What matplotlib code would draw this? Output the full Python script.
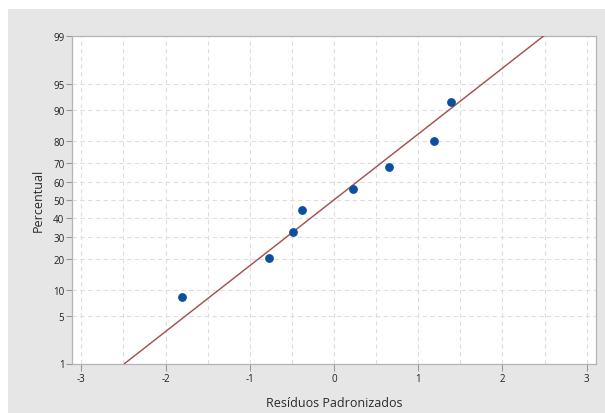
import numpy as np
import matplotlib
matplotlib.use("Agg")
import matplotlib.pyplot as plt
from matplotlib.patches import Rectangle
from matplotlib.ticker import NullLocator, FixedLocator
from statistics import NormalDist

# ---- data ----
residuals = [-1.80, -0.774, -0.481, -0.376, 0.229, 0.650, 1.182, 1.383]
percent = [8.3, 20.2, 32.1, 44.0, 56.0, 67.9, 79.8, 91.7]
y_ticks = [1, 5, 10, 20, 30, 40, 50, 60, 70, 80, 90, 95, 99]
x_ticks = [-3, -2, -1, 0, 1, 2, 3]
x_label = "Resíduos Padronizados"
y_label = "Percentual"

_nd = NormalDist()
_ppf = np.vectorize(lambda v: _nd.inv_cdf(v / 100.0), otypes=[float])
_cdf = np.vectorize(lambda v: _nd.cdf(v) * 100.0, otypes=[float])


def fwd(p):
    p = np.clip(np.asarray(p, dtype=float), 1e-6, 100 - 1e-6)
    return _ppf(p)


def inv(z):
    return _cdf(np.asarray(z, dtype=float))


plt.rcParams['font.family'] = ['Open Sans', 'DejaVu Sans']

fig = plt.figure(figsize=(6.05, 4.14), dpi=100, facecolor='white')
fig.patches.append(Rectangle((8 / 605, 0), 1, (414 - 10) / 414,
                             transform=fig.transFigure, facecolor='#e6e6e6',
                             edgecolor='none', zorder=-10))

ax = fig.add_axes([72 / 605, (414 - 364.5) / 414, (596 - 72) / 605, (364.5 - 37) / 414])
ax.set_facecolor('white')
ax.set_yscale('function', functions=(fwd, inv))
ax.set_ylim(1, 99)
ax.set_xlim(-3.11, 3.11)

ax.yaxis.set_major_locator(FixedLocator(y_ticks))
ax.yaxis.set_minor_locator(NullLocator())
ax.set_yticklabels([str(t) for t in y_ticks])
ax.set_xticks(x_ticks)
ax.set_xticklabels([str(t) for t in x_ticks])
ax.set_xticks(np.arange(-3, 3.01, 0.5), minor=True)

ax.grid(True, which='both', color='#dedede', linestyle=(0, (4, 3)), linewidth=0.8)
ax.set_axisbelow(True)

# fitted normal line from the data
mu = np.mean(residuals)
sd = np.std(residuals, ddof=1)
zz = np.linspace(fwd(1.0), fwd(99.0), 60)
ax.plot(mu + sd * zz, inv(zz), color='#a45252', linewidth=1.05, zorder=3)

ax.plot(residuals, percent, linestyle='none', marker='o', markersize=5.3,
        color='#0b4f9f', zorder=4)

for s in ax.spines.values():
    s.set_color('#b4b4b4')
    s.set_linewidth(0.9)

ax.tick_params(axis='both', which='major', colors='#999999', labelcolor='#222222',
               labelsize=7, direction='out')
ax.tick_params(axis='y', which='major', length=4, pad=1.5)
ax.tick_params(axis='x', which='major', length=5, pad=1.5)
ax.tick_params(axis='x', which='minor', length=0)

ax.set_xlabel(x_label, fontsize=9, color='#2a2a2a', labelpad=9)
ax.set_ylabel(y_label, fontsize=9, color='#2a2a2a', labelpad=6)

fig.savefig('out.png', dpi=100, facecolor=fig.get_facecolor())
